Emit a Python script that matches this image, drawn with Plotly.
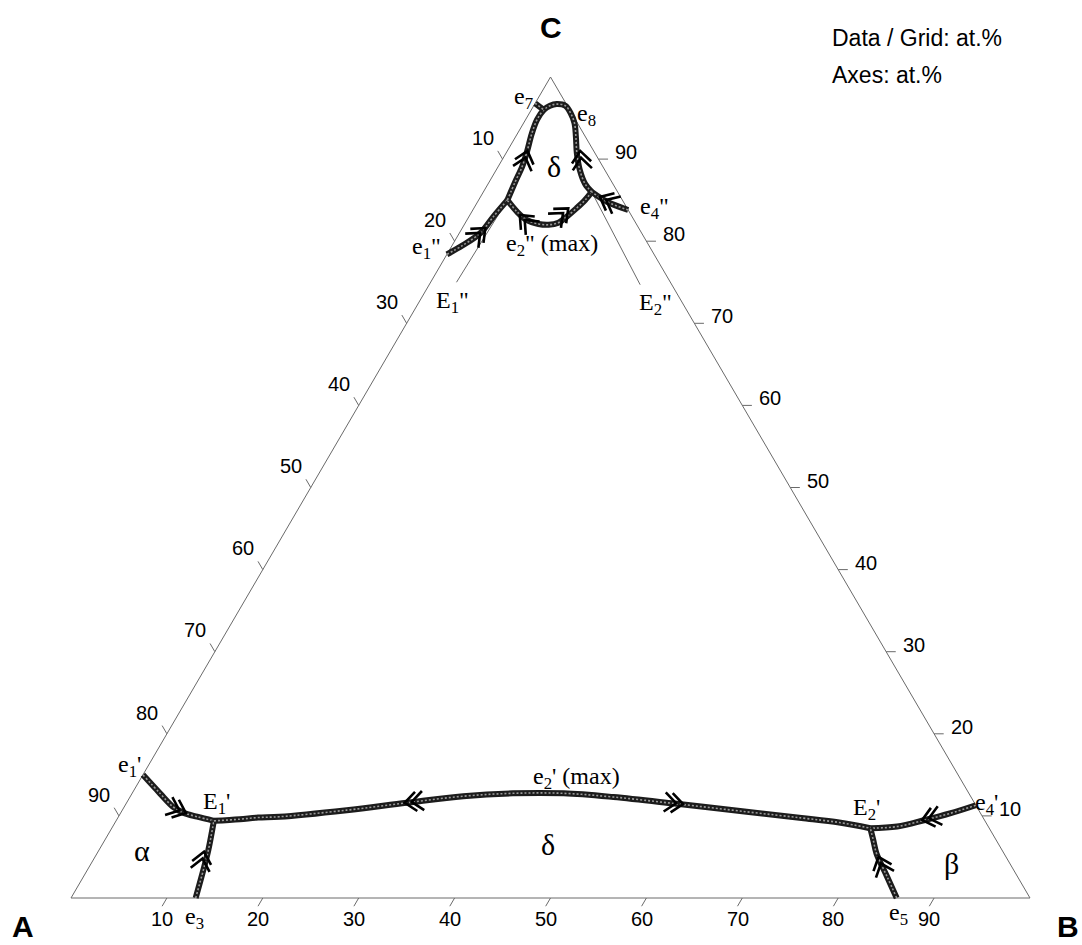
import numpy as np
import plotly.graph_objects as go

# ---------------------------------------------------------------
# Liquidus projection of the A-B-C system, compositions in at.%.
# Every curve is given as B and C contents (A = 100 - B - C).
# ---------------------------------------------------------------

# lower part: alpha / delta / beta
e1p_B = [0.0, 2.9, 5.1, 6.5, 8.2, 10.2]
e1p_C = [15.0, 12.75, 11.1, 10.4, 9.9, 9.4]
e3_B = [13.0, 12.1, 11.4, 10.2]
e3_C = [0.0, 3.4, 5.85, 9.4]
e2p_B = [10.2, 12.8, 14.6, 16.8, 23.4, 29.2, 34.7, 39.7, 45.0, 50.4, 57.2, 65.2, 71.3, 75.5, 79.1]
e2p_C = [9.4, 9.6, 9.8, 9.9, 10.7, 11.6, 12.4, 12.75, 12.75, 12.3, 11.5, 10.5, 9.75, 9.2, 8.5]
e4p_B = [88.7, 86.5, 84.3, 81.8, 79.1]
e4p_C = [11.3, 10.3, 9.5, 8.7, 8.5]
e5_B = [86.1, 83.8, 81.3, 80.1, 79.1]
e5_C = [0.0, 2.6, 5.4, 7.1, 8.5]

# upper part: delta field near the C corner
e1pp_B = [0.0, 1.1, 2.2, 2.55, 3.0]
e1pp_C = [78.4, 79.5, 81.0, 83.0, 85.0]
e2pp_B = [3.0, 4.7, 6.2, 7.7, 8.8, 9.7, 10.2, 10.7, 11.1, 11.3]
e2pp_C = [85.0, 83.6, 82.6, 82.1, 82.0, 82.25, 83.0, 84.0, 85.0, 86.0]
e4pp_B = [16.2, 13.5, 11.3]
e4pp_C = [83.8, 84.8, 86.0]
dome_B = [3.0, 2.7, 2.5, 2.1, 1.5, 1.2, 1.3, 1.7, 2.3, 3.3, 4.3, 5.3, 6.3, 7.4, 8.7, 10.1, 11.3]
dome_C = [85.0, 87.25, 89.1, 90.9, 93.1, 94.8, 96.0, 96.5, 96.7, 96.5, 95.6, 94.4, 92.7, 90.7, 88.7, 87.0, 86.0]
e7_B = [0.0, 1.3]
e7_C = [96.8, 96.0]

# invariant lines E1'' and E2''
E1pp_B = [2.7, 3.0]
E1pp_C = [75.0, 85.0]
E2pp_B = [22.0, 11.3]
E2pp_C = [74.7, 86.0]

# axis ticks (at.%)
TICKS = [10, 20, 30, 40, 50, 60, 70, 80, 90]

# flow arrows: (curve, B, C, sense along the listed order)
ARROWS = [
    ("e1p", 6.8, 10.35, +1),
    ("e3", 11.05, 5.64, +1),
    ("e2p", 29.0, 11.6, -1),
    ("e2p", 58.1, 11.45, +1),
    ("e4p", 84.0, 9.5, +1),
    ("e5", 81.7, 5.0, +1),
    ("e1pp", 2.4, 81.6, +1),
    ("dome", 2.1, 91.0, +1),
    ("dome", 7.6, 91.0, -1),
    ("e2pp", 5.2, 83.2, -1),
    ("e2pp", 9.85, 84.0, +1),
    ("e4pp", 12.45, 85.4, +1),
]

# point labels: (text, B, C, size)
LABELS = [
    ("e<sub>1</sub>'", -2.0, 16.1, 24),
    ("E<sub>1</sub>'", 9.4, 11.6, 24),
    ("α", 4.5, 5.75, 30),
    ("e<sub>3</sub>", 14.1, -2.4, 24),
    ("e<sub>2</sub>' (max)", 45.4, 14.6, 24),
    ("δ", 46.5, 6.5, 30),
    ("E<sub>2</sub>'", 77.5, 10.9, 24),
    ("β", 89.7, 4.2, 30),
    ("e<sub>4</sub>'", 89.7, 11.45, 24),
    ("e<sub>5</sub>", 87.3, -1.95, 24),
    ("e<sub>7</sub>", -1.5, 97.4, 24),
    ("e<sub>8</sub>", 6.1, 95.4, 24),
    ("δ", 5.8, 89.1, 30),
    ("e<sub>1</sub>\"", -2.5, 79.2, 24),
    ("e<sub>2</sub>\" (max)", 10.4, 79.5, 24),
    ("e<sub>4</sub>\"", 18.8, 84.0, 24),
    ("E<sub>1</sub>\"", 3.5, 72.6, 24),
    ("E<sub>2</sub>\"", 24.7, 72.4, 24),
]

CURVES = {
    "e1p": (e1p_B, e1p_C), "e3": (e3_B, e3_C), "e2p": (e2p_B, e2p_C),
    "e4p": (e4p_B, e4p_C), "e5": (e5_B, e5_C),
    "e1pp": (e1pp_B, e1pp_C), "e2pp": (e2pp_B, e2pp_C), "e4pp": (e4pp_B, e4pp_C),
    "dome": (dome_B, dome_C), "e7": (e7_B, e7_C),
}

# ---------------------------------------------------------------
W, H = 1082, 945
X_RANGE = [-71 / 9.59, (W - 71) / 9.59]
Y_RANGE = [-(H - 898) / 8.21, 898 / 8.21]
SX = W / (X_RANGE[1] - X_RANGE[0])   # px per x unit
SY = H / (Y_RANGE[1] - Y_RANGE[0])   # px per y unit

SANS = "Liberation Sans, Arial, Helvetica, sans-serif"
SERIF = "Liberation Serif, Times New Roman, serif"
FRAME = "#6a6a6a"


def tern_xy(B, C):
    """Composition (B, C) -> cartesian position inside the triangle."""
    if np.isscalar(B) and np.isscalar(C):
        return float(B) + float(C) / 2.0, float(C)
    B = np.asarray(B, float)
    C = np.asarray(C, float)
    return (B + C / 2.0).tolist(), C.tolist()


def joined(segs):
    xs, ys = [], []
    for sx, sy in segs:
        xs += list(sx) + [None]
        ys += list(sy) + [None]
    return xs, ys


fig = go.Figure()

# triangle frame
fx, fy = tern_xy([0, 100, 0, 0], [0, 0, 100, 0])
fig.add_trace(go.Scatter(x=fx, y=fy, mode="lines",
                         line=dict(color=FRAME, width=1), hoverinfo="skip"))

# ticks along the grid directions, pointing out of the triangle
tick_segs = []
for v in TICKS:
    tick_segs.append(tern_xy([v, v], [0, -1]))                 # bottom: B
    tick_segs.append(tern_xy([0, -1], [100 - v, 101 - v]))     # left: A
    tick_segs.append(tern_xy([100 - v, 101 - v], [v, v]))      # right: C
tx, ty = joined(tick_segs)
fig.add_trace(go.Scatter(x=tx, y=ty, mode="lines",
                         line=dict(color=FRAME, width=1), hoverinfo="skip"))

# invariant lines
lx, ly = joined([tern_xy(E1pp_B, E1pp_C), tern_xy(E2pp_B, E2pp_C)])
fig.add_trace(go.Scatter(x=lx, y=ly, mode="lines",
                         line=dict(color=FRAME, width=1), hoverinfo="skip"))

# monovariant curves: dark body with a light dotted core
for name, (cb, cc) in CURVES.items():
    cx, cy = tern_xy(cb, cc)
    shape = "linear" if len(cb) < 3 else "spline"
    fig.add_trace(go.Scatter(x=cx, y=cy, mode="lines",
                             line=dict(color="#1c1c1c", width=6, shape=shape, smoothing=1),
                             hoverinfo="skip"))
    fig.add_trace(go.Scatter(x=cx, y=cy, mode="lines",
                             line=dict(color="#9a9a9a", width=1.6, shape=shape, smoothing=1,
                                       dash="2px,2px"),
                             hoverinfo="skip"))

# double chevrons showing the direction of falling temperature
ARM, HALF, GAP = 15.0, 40.0, 7.0
ch_segs = []
for name, b0, c0, sense in ARROWS:
    cx, cy = (np.array(a) for a in tern_xy(*CURVES[name]))
    x0, y0 = tern_xy(b0, c0)
    i = int(np.argmin((cx - x0) ** 2 + (cy - y0) ** 2))
    j0, j1 = max(i - 1, 0), min(i + 1, len(cx) - 1)
    ux = (cx[j1] - cx[j0]) * SX * sense
    uy = -(cy[j1] - cy[j0]) * SY * sense
    n = np.hypot(ux, uy)
    ux, uy = ux / n, uy / n
    for k in range(2):
        tpx, tpy = -k * GAP * ux, -k * GAP * uy
        pts = []
        for s in (1, -1):
            a = np.radians(HALF) * s
            bx = -(ux * np.cos(a) - uy * np.sin(a))
            by = -(ux * np.sin(a) + uy * np.cos(a))
            pts.append((tpx + ARM * bx, tpy + ARM * by))
        seq = [pts[0], (tpx, tpy), pts[1]]
        ch_segs.append(([float(x0 + p[0] / SX) for p in seq],
                        [float(y0 - p[1] / SY) for p in seq]))
hx, hy = joined(ch_segs)
fig.add_trace(go.Scatter(x=hx, y=hy, mode="lines",
                         line=dict(color="black", width=2.6), hoverinfo="skip"))

ann = []
# tick labels
for v in TICKS:
    x, y = tern_xy(v, -1)
    ann.append(dict(x=x, y=y, text=str(v), xanchor="center", yanchor="top",
                    font=dict(family=SANS, size=20)))
    x, y = tern_xy(-1, 101 - v)
    ann.append(dict(x=x, y=y, text=str(v), xanchor="right", yanchor="bottom",
                    xshift=-2, font=dict(family=SANS, size=20)))
    x, y = tern_xy(101 - v, v)
    ann.append(dict(x=x, y=y, text=str(v), xanchor="left", yanchor="middle",
                    xshift=5, yshift=7, font=dict(family=SANS, size=20)))

for text, b, c, size in LABELS:
    x, y = tern_xy(b, c)
    ann.append(dict(x=x, y=y, text=text, xanchor="center", yanchor="middle",
                    font=dict(family=SERIF, size=size)))

# corner labels
ann.append(dict(xref="paper", yref="paper", x=10 / W, y=0, text="<b>A</b>",
                xanchor="left", yanchor="bottom", font=dict(family=SANS, size=30)))
ann.append(dict(xref="paper", yref="paper", x=1 - 1 / W, y=0, text="<b>B</b>",
                xanchor="right", yanchor="bottom", font=dict(family=SANS, size=30)))
x, y = tern_xy(0, 100)
ann.append(dict(x=x, y=y, text="<b>C</b>", xanchor="center", yanchor="middle",
                yshift=50, font=dict(family=SANS, size=30)))

# units note
for text, py in [("Data / Grid: at.%", 38), ("Axes: at.%", 75)]:
    ann.append(dict(xref="paper", yref="paper", x=830 / W, y=1 - py / H, text=text,
                    xanchor="left", yanchor="middle", font=dict(family=SANS, size=23)))

for a in ann:
    a.setdefault("showarrow", False)
    a["font"].setdefault("color", "black")

fig.update_layout(
    width=W, height=H,
    margin=dict(l=0, r=0, t=0, b=0),
    paper_bgcolor="white", plot_bgcolor="white",
    showlegend=False,
    xaxis=dict(range=X_RANGE, visible=False, fixedrange=True),
    yaxis=dict(range=Y_RANGE, visible=False, fixedrange=True),
    annotations=ann,
)

fig.write_html("out.html")
